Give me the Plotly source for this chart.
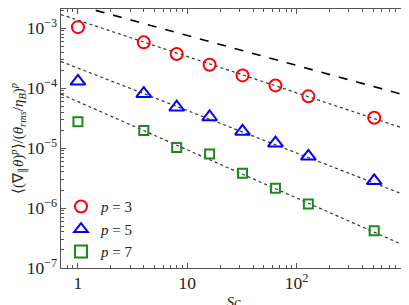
import numpy as np
import plotly.graph_objects as go

sc = [1, 4, 8, 16, 32, 64, 128, 512]
p3 = [1.04e-3, 5.8e-4, 3.7e-4, 2.45e-4, 1.63e-4, 1.11e-4, 7.3e-5, 3.2e-5]
p5 = [1.3e-4, 8.1e-5, 4.8e-5, 3.3e-5, 1.9e-5, 1.21e-5, 7.3e-6, 2.85e-6]
p7 = [2.74e-5, 1.97e-5, 1.02e-5, 8.0e-6, 3.8e-6, 2.13e-6, 1.17e-6, 4.2e-7]

# fit lines: coefficient at Sc=1 and exponent
fit3 = (1.36e-3, -0.606)
fit5 = (2.16e-4, -0.708)
fit7 = (5.96e-5, -0.804)
ref_line = (2.39e-3, -0.5)

fit_x = [0.7, 1000]

serif = "Liberation Serif"
fig = go.Figure()

for (c, a) in [fit3, fit5, fit7]:
    fig.add_trace(go.Scatter(x=fit_x, y=[c * xx ** a for xx in fit_x], mode="lines",
                             line=dict(color="#333333", width=1.2, dash="dot"),
                             showlegend=False, hoverinfo="skip"))
c, a = ref_line
fig.add_trace(go.Scatter(x=fit_x, y=[c * xx ** a for xx in fit_x], mode="lines",
                         line=dict(color="black", width=1.6, dash="dash"),
                         showlegend=False, hoverinfo="skip"))

series = [
    (p3, "circle-open", "#ff0000", 12, "<i>p</i> = 3"),
    (p5, "triangle-up-open", "#0000ff", 13, "<i>p</i> = 5"),
    (p7, "square-open", "#1a8a1a", 9, "<i>p</i> = 7"),
]
for vals, sym, col, sz, name in series:
    fig.add_trace(go.Scatter(x=sc, y=vals, mode="markers", name=name,
                             marker=dict(symbol=sym, size=sz, color=col,
                                         line=dict(color=col, width=2))))

axis_common = dict(type="log", showline=True, linecolor="#555555", linewidth=1,
                   mirror="allticks", ticks="inside", ticklen=5, tickcolor="#555555",
                   showgrid=False, zeroline=False, exponentformat="power", dtick=1,
                   minor=dict(ticks="inside", ticklen=3, tickcolor="#555555", showgrid=False),
                   tickfont=dict(family=serif, size=14, color="#222222"))

fig.update_xaxes(range=[np.log10(0.7), 3],
                 title=dict(text="<i>Sc</i>", font=dict(family=serif, size=15, color="#222222"), standoff=4),
                 **axis_common)
fig.update_yaxes(range=[-7, -2.68],
                 title=dict(text="⟨(∇<sub>∥</sub><i>θ</i>)<sup><i>p</i></sup>⟩/(<i>θ</i><sub><i>rms</i></sub>/<i>η</i><sub><i>B</i></sub>)<sup><i>p</i></sup>",
                            font=dict(family=serif, size=15, color="#222222"), standoff=2),
                 **axis_common)

fig.update_layout(
    width=409, height=305,
    margin=dict(l=53, r=11, t=1, b=45),
    paper_bgcolor="white", plot_bgcolor="white",
    font=dict(family=serif, color="#222222"),
    legend=dict(x=0.0, y=0.3, xanchor="left", yanchor="top", bgcolor="rgba(0,0,0,0)",
                font=dict(family=serif, size=15, color="#222222"), itemsizing="constant",
                tracegroupgap=0),
)

fig.write_html("out.html")
